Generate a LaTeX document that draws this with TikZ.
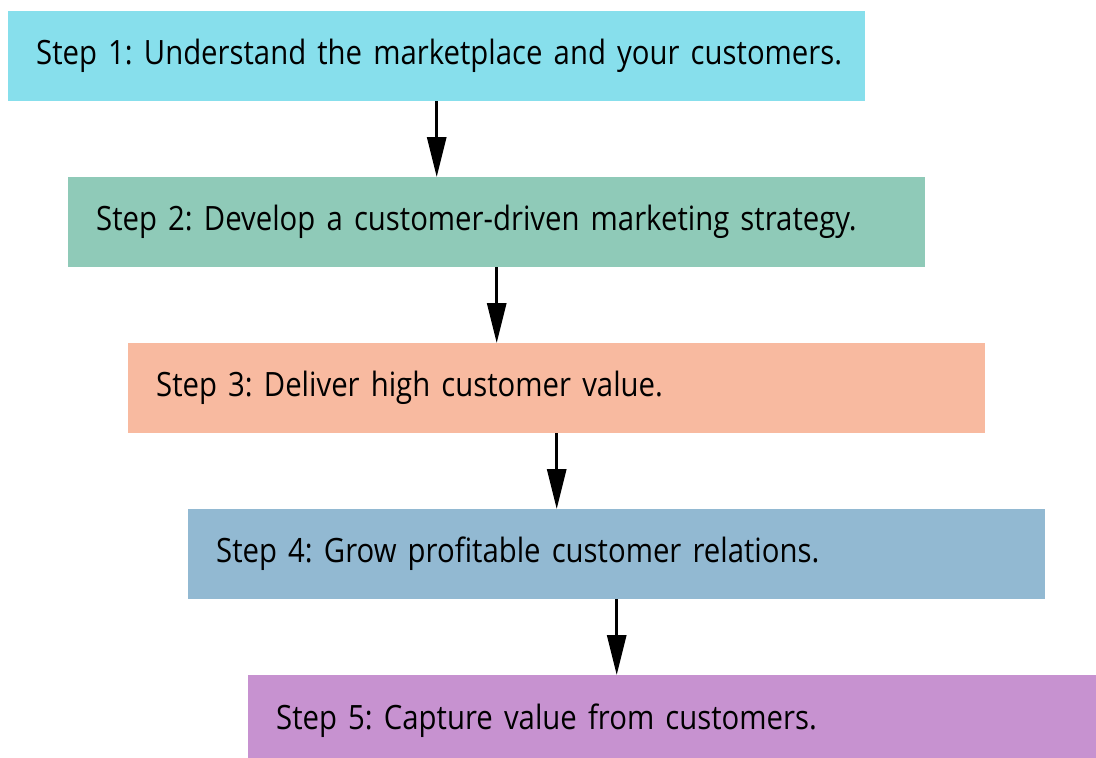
\documentclass[tikz,border=0pt]{standalone}
\usepackage{fontspec}
\setmainfont[FakeStretch=0.875]{Open Sans}
\usetikzlibrary{arrows.meta}

\definecolor{stepone}{HTML}{87DFEC}
\definecolor{steptwo}{HTML}{8FCAB8}
\definecolor{stepthree}{HTML}{F8BAA0}
\definecolor{stepfour}{HTML}{92B9D2}
\definecolor{stepfive}{HTML}{C792D0}

\tikzset{
stepbox/.style={rectangle, anchor=north west, inner xsep=0pt, inner ysep=0pt,
text width=857pt, minimum height=90pt, align=left,
execute at begin node={\hspace*{28pt}},
font=\fontsize{33.5pt}{38pt}\selectfont},
flow/.style={-{Triangle[length=40pt,width=19pt]}, line width=3pt}
}

\begin{document}
\frenchspacing
\begin{tikzpicture}[x=1pt, y=-1pt]
% 1px = 1pt, y runs down
\useasboundingbox (0,0) rectangle (1096,758);
\clip (0,0) rectangle (1096,758);
	\node[stepbox, fill=stepone] (s1) at (8,11) {Step 1: Understand the marketplace and your customers.};
	\node[stepbox, fill=steptwo] (s2) at (68,177) {Step 2: Develop a customer-driven marketing strategy.};
	\node[stepbox, fill=stepthree] (s3) at (128,343) {Step 3: Deliver high customer value.};
	\node[stepbox, fill=stepfour] (s4) at (188,509) {Step 4: Grow profitable customer relations.};
	\node[stepbox, fill=stepfive] (s5) at (248,675) {Step 5: Capture value from customers.};
% arrows drop straight down from each box centre
\foreach \a/\b in {s1/s2, s2/s3, s3/s4, s4/s5}
	\draw[flow] (\a.south) -- (\a.south |- \b.north);
\end{tikzpicture}
\end{document}
